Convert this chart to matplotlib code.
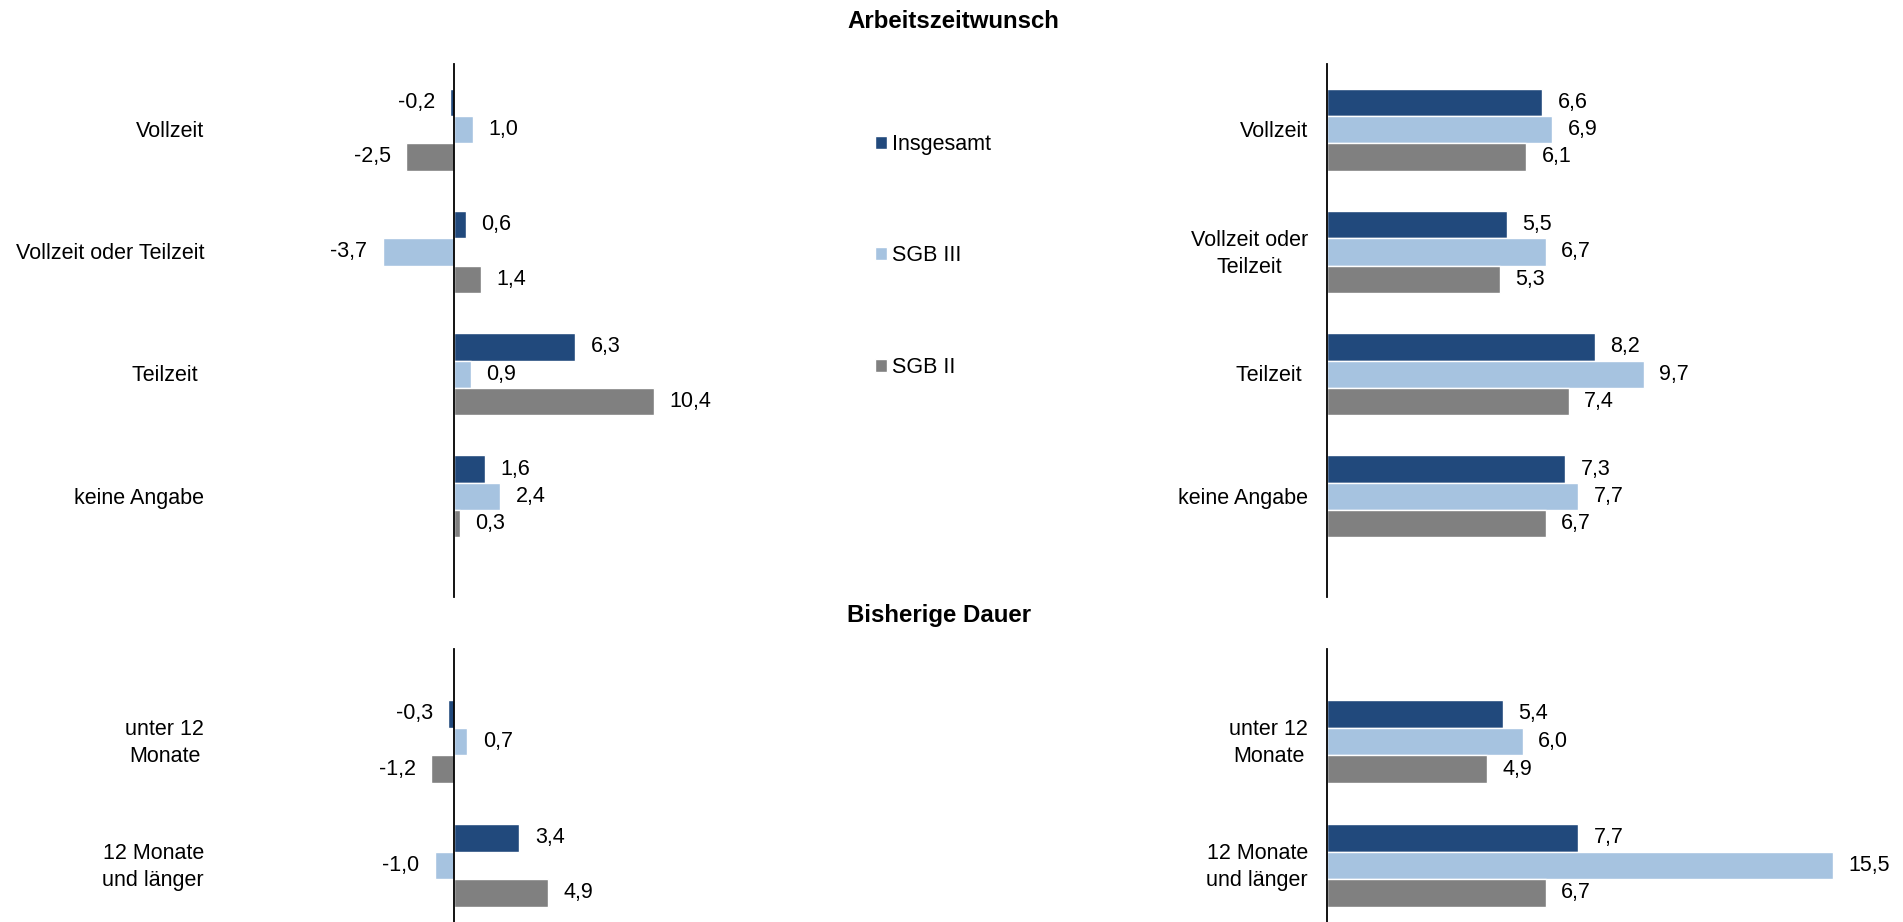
import matplotlib
matplotlib.use("Agg")
import matplotlib.pyplot as plt
from matplotlib.transforms import blended_transform_factory

plt.rcParams['font.family'] = ['Liberation Sans', 'DejaVu Sans']

# ---- data ----
series = ["Insgesamt", "SGB III", "SGB II"]
colors = ["#21497C", "#A6C3E0", "#808080"]

cats_top = ["Vollzeit", "Vollzeit oder Teilzeit", "Teilzeit ", "keine Angabe"]
cats_top_right = ["Vollzeit", "Vollzeit oder\nTeilzeit", "Teilzeit ", "keine Angabe"]
top_left_insg = [-0.2, 0.6, 6.3, 1.6]
top_left_sgb3 = [1.0, -3.7, 0.9, 2.4]
top_left_sgb2 = [-2.5, 1.4, 10.4, 0.3]
top_right_insg = [6.6, 5.5, 8.2, 7.3]
top_right_sgb3 = [6.9, 6.7, 9.7, 7.7]
top_right_sgb2 = [6.1, 5.3, 7.4, 6.7]

cats_bot = ["unter 12\nMonate", "12 Monate\nund länger"]
bot_left_insg = [-0.3, 3.4]
bot_left_sgb3 = [0.7, -1.0]
bot_left_sgb2 = [-1.2, 4.9]
bot_right_insg = [5.4, 7.7]
bot_right_sgb3 = [6.0, 15.5]
bot_right_sgb2 = [4.9, 6.7]

title_top = "Arbeitszeitwunsch"
title_bot = "Bisherige Dauer"

# ---- layout ----
W, H = 1903, 922
fig = plt.figure(figsize=(W / 100, H / 100), dpi=100)
FS = 15.5


def fmt(v):
    return f"{v:.1f}".replace(".", ",")


def make_axes(x0px, x1px, y0px, y1px, zero_px, px_per_unit, ylim):
    ax = fig.add_axes([x0px / W, 1 - y1px / H, (x1px - x0px) / W, (y1px - y0px) / H])
    ax.set_xlim((x0px - zero_px) / px_per_unit, (x1px - zero_px) / px_per_unit)
    ax.set_ylim(*ylim)
    for s in ["top", "right", "bottom"]:
        ax.spines[s].set_visible(False)
    ax.spines["left"].set_position(("data", 0))
    ax.spines["left"].set_linewidth(1.3)
    ax.set_xticks([])
    ax.set_yticks([])
    ax.patch.set_visible(False)
    return ax


def draw(ax, cats, vals_list, label_xpx):
    pitch = 0.223
    handles = []
    for i, (vals, col, name) in enumerate(zip(vals_list, colors, series)):
        ys = [k + (i - 1) * pitch for k in range(len(cats))]
        bc = ax.barh(ys, vals, height=pitch, color=col, edgecolor="white",
                     linewidth=1.0, label=name, zorder=2)
        handles.append(bc)
        for y, v in zip(ys, vals):
            off = 11 if v >= 0 else -11
            ax.annotate(fmt(v), (v, y), xytext=(off, 0), textcoords="offset points",
                        ha="left" if v >= 0 else "right", va="center", fontsize=FS)
    tr = blended_transform_factory(fig.transFigure, ax.transData)
    for k, c in enumerate(cats):
        ax.text(label_xpx / W, k + 0.015, c, transform=tr, ha="right", va="center",
                multialignment="center", fontsize=FS, linespacing=1.4)
    return handles


LEFT_ZERO, LEFT_SCALE = 454, 19.26
RIGHT_ZERO, RIGHT_SCALE = 1327, 32.65

ylim_top = (3.823, -0.537)
ylim_bot = (1.457, -0.745)

ax_tl = make_axes(250, 800, 64, 597, LEFT_ZERO, LEFT_SCALE, ylim_top)
h = draw(ax_tl, cats_top, [top_left_insg, top_left_sgb3, top_left_sgb2], 204)

ax_tr = make_axes(1150, 1900, 64, 597, RIGHT_ZERO, RIGHT_SCALE, ylim_top)
draw(ax_tr, cats_top_right, [top_right_insg, top_right_sgb3, top_right_sgb2], 1308)

ax_bl = make_axes(250, 800, 649, 922, LEFT_ZERO, LEFT_SCALE, ylim_bot)
draw(ax_bl, cats_bot, [bot_left_insg, bot_left_sgb3, bot_left_sgb2], 204)

ax_br = make_axes(1150, 1900, 649, 922, RIGHT_ZERO, RIGHT_SCALE, ylim_bot)
draw(ax_br, cats_bot, [bot_right_insg, bot_right_sgb3, bot_right_sgb2], 1308)

fig.text(847 / W, 1 - 21 / H, title_top, ha="left", va="center", fontsize=17.3, fontweight="bold")
fig.text(847 / W, 1 - 615 / H, title_bot, ha="left", va="center", fontsize=17.3, fontweight="bold")

leg = fig.legend(handles=h, labels=series, loc="upper left",
                 bbox_to_anchor=(875 / W, 1 - 134 / H), frameon=False, fontsize=FS,
                 handlelength=0.55, handleheight=0.55, handletextpad=0.25,
                 labelspacing=4.2, borderpad=0, borderaxespad=0)

fig.savefig("out.png", dpi=100)
